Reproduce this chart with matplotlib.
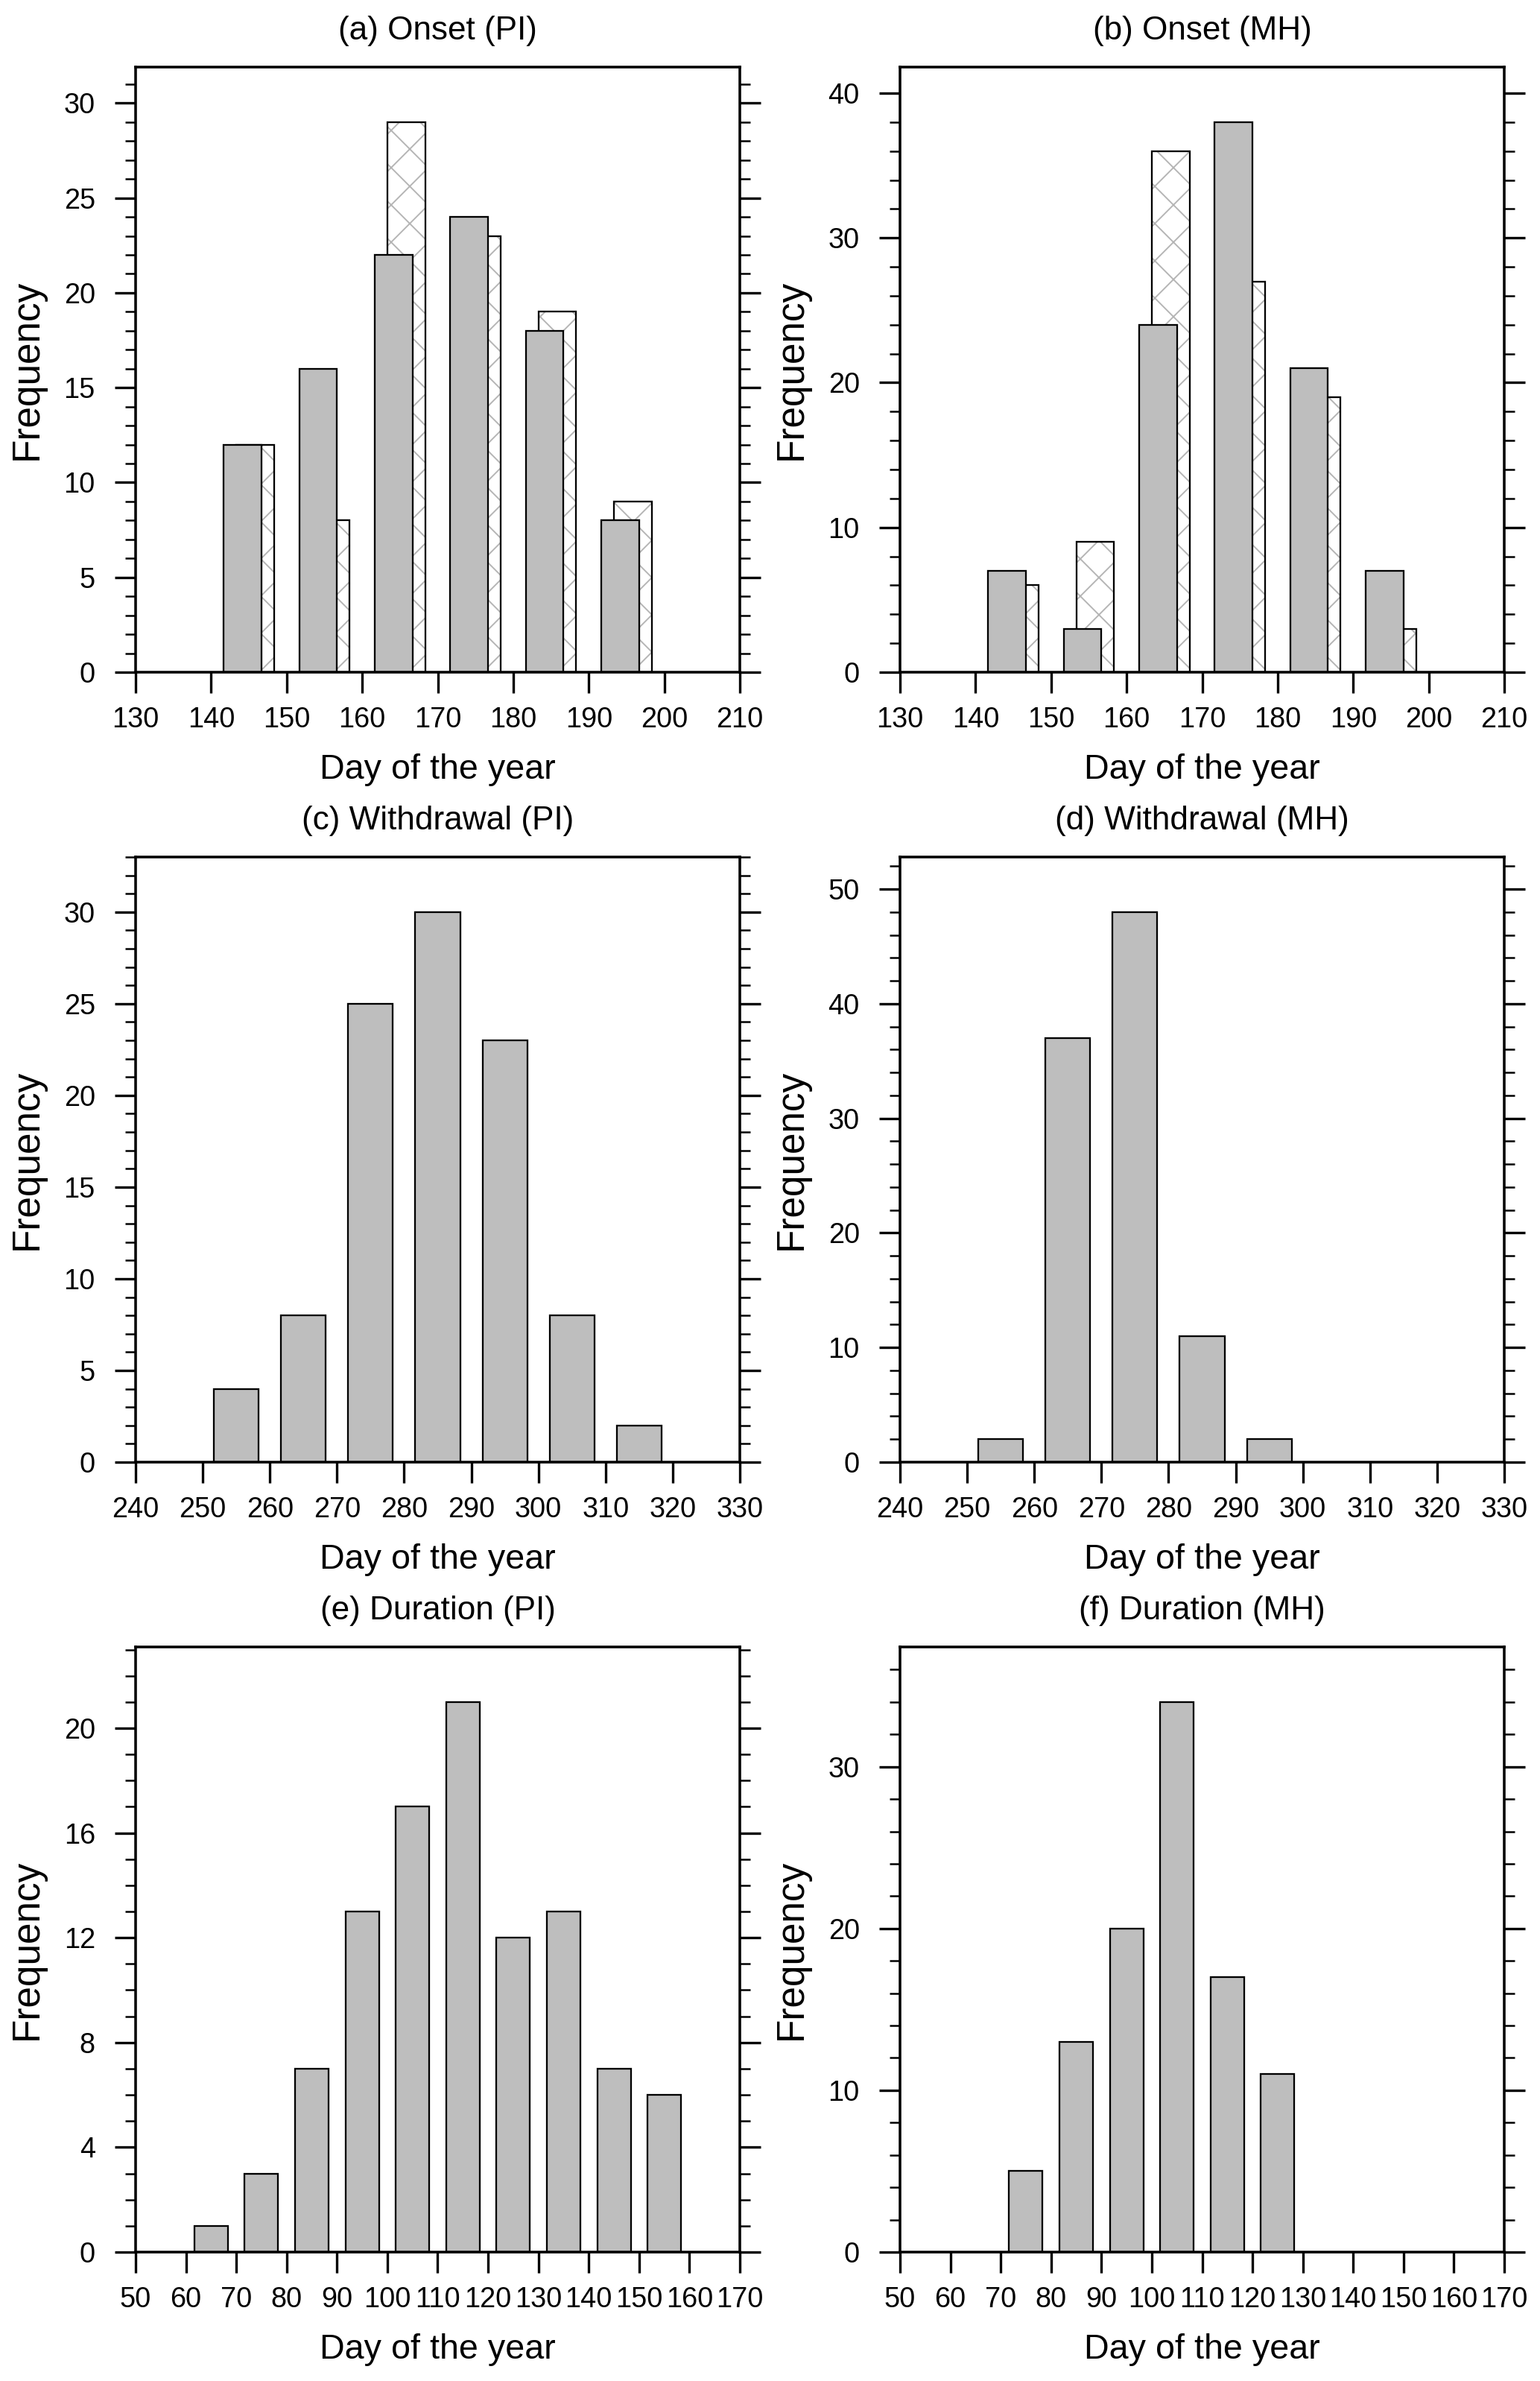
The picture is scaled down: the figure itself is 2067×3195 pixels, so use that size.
import numpy as np
import matplotlib
matplotlib.use("Agg")
import matplotlib.pyplot as plt
from matplotlib.ticker import MultipleLocator

plt.rcParams['font.family'] = ['Liberation Sans', 'DejaVu Sans']
plt.rcParams['hatch.linewidth'] = 0.45

# data
onset_bins = [145, 155, 165, 175, 185, 195]
onset_pi_grey = [12, 16, 22, 24, 18, 8]
onset_pi_hatch = [12, 8, 29, 23, 19, 9]
onset_mh_grey = [7, 3, 24, 38, 21, 7]
onset_mh_hatch = [6, 9, 36, 27, 19, 3]

withdrawal_pi_bins = [255, 265, 275, 285, 295, 305, 315]
withdrawal_pi = [4, 8, 25, 30, 23, 8, 2]
withdrawal_mh_bins = [255, 265, 275, 285, 295]
withdrawal_mh = [2, 37, 48, 11, 2]

duration_pi_bins = [65, 75, 85, 95, 105, 115, 125, 135, 145, 155]
duration_pi = [1, 3, 7, 13, 17, 21, 12, 13, 7, 6]
duration_mh_bins = [75, 85, 95, 105, 115, 125]
duration_mh = [5, 13, 20, 34, 17, 11]

titles = ["(a) Onset (PI)", "(b) Onset (MH)", "(c) Withdrawal (PI)",
          "(d) Withdrawal (MH)", "(e) Duration (PI)", "(f) Duration (MH)"]
xlims = [(130, 210), (130, 210), (240, 330), (240, 330), (50, 170), (50, 170)]
ymajor = [5, 10, 5, 10, 4, 10]
yminor = [1, 2, 1, 2, 1, 2]

GREY = '#bebebe'
HATCH = '#b4b4b4'
BIN = 10.0

W, H = 2067, 3195
DPI = 300
fig = plt.figure(figsize=(W / DPI, H / DPI), dpi=DPI)

lefts = [182, 1208]
bottoms = [902, 1962, 3022]
aw, ah = 811, 812

panels = [
    (onset_bins, onset_pi_grey, onset_pi_hatch),
    (onset_bins, onset_mh_grey, onset_mh_hatch),
    (withdrawal_pi_bins, withdrawal_pi, None),
    (withdrawal_mh_bins, withdrawal_mh, None),
    (duration_pi_bins, duration_pi, None),
    (duration_mh_bins, duration_mh, None),
]

for i, (bins, grey, hatch) in enumerate(panels):
    r, c = divmod(i, 2)
    ax = fig.add_axes([lefts[c] / W, (H - bottoms[r]) / H, aw / W, ah / H])
    x = np.array(bins, dtype=float)
    if hatch is not None:
        w = BIN / 2
        off = BIN / 12
        ax.bar(x + off, hatch, w, color='white', edgecolor=HATCH, hatch='xx',
               linewidth=0, zorder=2)
        ax.bar(x + off, hatch, w, fill=False, edgecolor='black',
               linewidth=0.55, zorder=3)
        ax.bar(x - off, grey, w, color=GREY, edgecolor='black',
               linewidth=0.55, zorder=4)
        ymax = 1.1 * max(max(grey), max(hatch))
    else:
        ax.bar(x, grey, BIN * 2 / 3, color=GREY, edgecolor='black',
               linewidth=0.55, zorder=4)
        ymax = 1.1 * max(grey)

    ax.set_xlim(*xlims[i])
    ax.set_ylim(0, ymax)
    ax.xaxis.set_major_locator(MultipleLocator(10))
    ax.yaxis.set_major_locator(MultipleLocator(ymajor[i]))
    ax.yaxis.set_minor_locator(MultipleLocator(yminor[i]))

    for s in ax.spines.values():
        s.set_linewidth(0.85)
        s.set_zorder(5)
    ax.tick_params(axis='both', which='major', direction='out', length=6.7,
                   width=0.8, labelsize=9.1)
    ax.tick_params(axis='x', which='major', pad=4.4)
    ax.tick_params(axis='y', which='major', pad=6.3)
    ax.tick_params(axis='y', which='both', left=True, right=True)
    ax.tick_params(axis='y', which='minor', direction='out', length=3.4,
                   width=0.6)
    ax.tick_params(axis='x', which='both', top=False)

    ax.set_title(titles[i], fontsize=10.6, pad=9)
    ax.set_xlabel("Day of the year", fontsize=11.2, labelpad=6.4)
    ax.set_ylabel("Frequency", fontsize=12.3, labelpad=6)

fig.savefig("out.png", dpi=DPI)
